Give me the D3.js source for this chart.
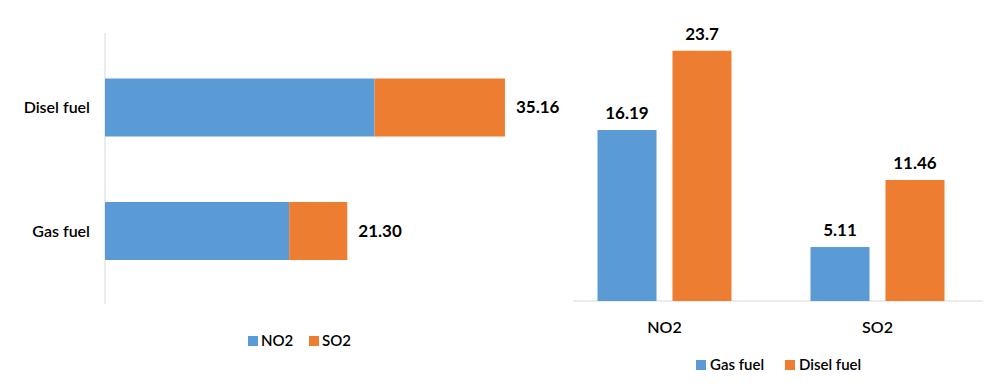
<!DOCTYPE html>
<html>
<head>
<meta charset="utf-8">
<script src="https://cdn.jsdelivr.net/npm/d3@7"></script>
<style>
  body { margin: 0; background: #fff; }
  svg text { font-family: Lato, "Open Sans", sans-serif; fill: #000; }
</style>
</head>
<body>
<div id="graph"></div>
<script>
(function(){
  "use strict";

  // left chart: stacked horizontal bars
  var fuels = ["Disel fuel", "Gas fuel"];
  var no2ByFuel = [23.70, 16.19];
  var so2ByFuel = [11.46, 5.11];
  var totalLabels = ["35.16", "21.30"];

  // right chart: grouped columns
  var gases = ["NO2", "SO2"];
  var gasFuel = [16.19, 5.11];
  var diselFuel = [23.7, 11.46];
  var columnLabels = [["16.19", "23.7"], ["5.11", "11.46"]];

  var blue = "#5b9bd5", orange = "#ed7d31", axisGrey = "#d9d9d9";

  var svg = d3.select("#graph").append("svg")
      .attr("width", 1007)
      .attr("height", 387);

  // ---------- left chart ----------
  var left = svg.append("g");

  var xL = d3.scaleLinear().domain([0, 40]).range([105, 560]);
  var yL = d3.scalePoint().domain(fuels).range([107.5, 231]);
  var barH = 58;

  left.append("line")
      .attr("x1", xL(0)).attr("x2", xL(0))
      .attr("y1", 33).attr("y2", 304)
      .attr("stroke", axisGrey).attr("stroke-width", 1);

  var rows = left.selectAll(".row")
      .data(fuels)
      .enter().append("g")
      .attr("class", "row");

  rows.append("rect")
      .attr("x", xL(0))
      .attr("y", function(d){ return yL(d) - barH / 2; })
      .attr("width", function(d, i){ return xL(no2ByFuel[i]) - xL(0); })
      .attr("height", barH)
      .attr("fill", blue);

  rows.append("rect")
      .attr("x", function(d, i){ return xL(no2ByFuel[i]); })
      .attr("y", function(d){ return yL(d) - barH / 2; })
      .attr("width", function(d, i){ return xL(no2ByFuel[i] + so2ByFuel[i]) - xL(no2ByFuel[i]); })
      .attr("height", barH)
      .attr("fill", orange);

  rows.append("text")
      .attr("x", xL(0) - 15)
      .attr("y", function(d){ return yL(d); })
      .attr("dy", "0.35em")
      .attr("text-anchor", "end")
      .style("font-size", "16px")
      .style("font-weight", "600")
      .text(function(d){ return d; });

  rows.append("text")
      .attr("x", function(d, i){ return xL(no2ByFuel[i] + so2ByFuel[i]) + 11; })
      .attr("y", function(d){ return yL(d); })
      .attr("dy", "0.35em")
      .style("font-size", "17px")
      .style("font-weight", "bold")
      .text(function(d, i){ return totalLabels[i]; });

  // legend
  var legL = left.append("g").attr("transform", "translate(248,336)");
  [["NO2", blue, 0], ["SO2", orange, 61]].forEach(function(it){
    legL.append("rect").attr("x", it[2]).attr("y", 0)
        .attr("width", 10).attr("height", 10).attr("fill", it[1]);
    legL.append("text").attr("x", it[2] + 13).attr("y", 5).attr("dy", "0.35em")
        .style("font-size", "15px").style("font-weight", "600").text(it[0]);
  });

  // ---------- right chart ----------
  var right = svg.append("g");

  var x0 = d3.scaleBand().domain(gases).range([558, 984]);
  var x1 = d3.scaleBand().domain(["Gas fuel", "Disel fuel"]).range([0, 134]).paddingInner(0.213);
  var yR = d3.scaleLinear().domain([0, 25]).range([301, 37]);

  right.append("line")
      .attr("x1", 573).attr("x2", 983)
      .attr("y1", yR(0)).attr("y2", yR(0))
      .attr("stroke", axisGrey).attr("stroke-width", 1);

  var groups = right.selectAll(".grp")
      .data(gases)
      .enter().append("g")
      .attr("class", "grp")
      .attr("transform", function(d){ return "translate(" + (x0(d) + x0.bandwidth() / 2 - 67) + ",0)"; });

  groups.each(function(d, i){
    var g = d3.select(this);
    var vals = [gasFuel[i], diselFuel[i]];
    var keys = x1.domain();
    g.selectAll("rect")
        .data(vals)
        .enter().append("rect")
        .attr("x", function(v, j){ return x1(keys[j]); })
        .attr("y", function(v){ return yR(v); })
        .attr("width", x1.bandwidth())
        .attr("height", function(v){ return yR(0) - yR(v); })
        .attr("fill", function(v, j){ return j === 0 ? blue : orange; });
    g.selectAll(".lbl")
        .data(vals)
        .enter().append("text")
        .attr("class", "lbl")
        .attr("x", function(v, j){ return x1(keys[j]) + x1.bandwidth() / 2; })
        .attr("y", function(v){ return yR(v) - 11; })
        .attr("text-anchor", "middle")
        .style("font-size", "17px")
        .style("font-weight", "bold")
        .text(function(v, j){ return columnLabels[i][j]; });
  });

  right.selectAll(".cat")
      .data(gases)
      .enter().append("text")
      .attr("class", "cat")
      .attr("x", function(d){ return x0(d) + x0.bandwidth() / 2; })
      .attr("y", 327)
      .attr("dy", "0.35em")
      .attr("text-anchor", "middle")
      .style("font-size", "16px")
      .style("font-weight", "600")
      .text(function(d){ return d; });

  var legR = right.append("g").attr("transform", "translate(696,360)");
  [["Gas fuel", blue, 0], ["Disel fuel", orange, 89]].forEach(function(it){
    legR.append("rect").attr("x", it[2]).attr("y", 0)
        .attr("width", 10).attr("height", 10).attr("fill", it[1]);
    legR.append("text").attr("x", it[2] + 14).attr("y", 5).attr("dy", "0.35em")
        .style("font-size", "15px").style("font-weight", "600").text(it[0]);
  });

})();
</script>
</body>
</html>
